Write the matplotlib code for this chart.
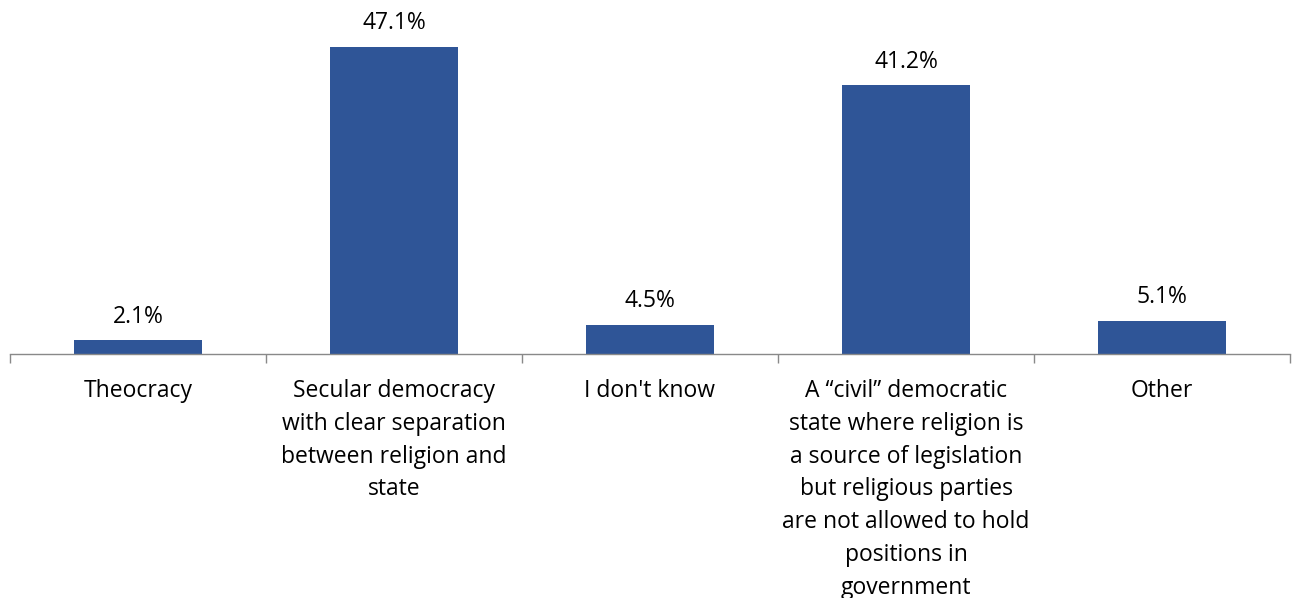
import matplotlib
matplotlib.use("Agg")
import matplotlib.pyplot as plt

categories = [
    "Theocracy",
    "Secular democracy\nwith clear separation\nbetween religion and\nstate",
    "I don't know",
    "A \u201ccivil\u201d democratic\nstate where religion is\na source of legislation\nbut religious parties\nare not allowed to hold\npositions in\ngovernment",
]
categories.append("Other")
values = [2.1, 47.1, 4.5, 41.2, 5.1]
labels = ["2.1%", "47.1%", "4.5%", "41.2%", "5.1%"]

W, H = 1293, 598
fig = plt.figure(figsize=(W / 100, H / 100), dpi=100)
ymax = 50
axis_y = 354
px_per_unit = (354 - 47) / 47.1
top = axis_y - ymax * px_per_unit
ax = fig.add_axes([10 / W, (H - axis_y) / H, 1280 / W, (axis_y - top) / H])

x = list(range(len(values)))
ax.bar(x, values, width=0.5, color="#2F5597", zorder=2)
ax.set_xlim(-0.5, len(values) - 0.5)
ax.set_ylim(0, ymax)

for xi, v, lab in zip(x, values, labels):
    ax.annotate(lab, xy=(xi, v), xycoords="data", xytext=(0, 8.5),
                textcoords="offset points", ha="center", va="bottom",
                fontsize=16.5, family="Open Sans", color="#000000")

for s in ["top", "right", "left"]:
    ax.spines[s].set_visible(False)
ax.spines["bottom"].set_color("#898989")
ax.spines["bottom"].set_linewidth(1)
ax.set_yticks([])

ax.set_xticks([i - 0.5 for i in range(len(values) + 1)], minor=False)
ax.set_xticklabels([])
ax.tick_params(axis="x", which="major", length=6.5, color="#898989", width=1)

for xi, c in zip(x, categories):
    ax.annotate(c, xy=(xi, 0), xycoords="data", xytext=(0, -18),
                textcoords="offset points", ha="center", va="top",
                fontsize=16.5, family="Open Sans", linespacing=1.49,
                color="#000000")

fig.savefig("out.png", dpi=100)
